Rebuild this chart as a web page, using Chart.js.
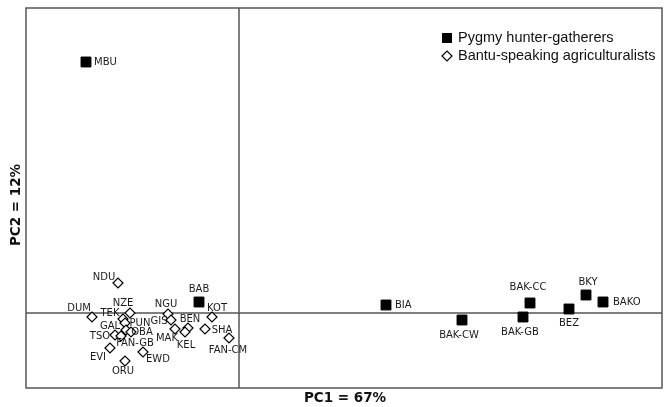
<!DOCTYPE html>
<html>
<head>
<meta charset="utf-8">
<script src="https://cdn.jsdelivr.net/npm/chart.js@4.4.1/dist/chart.umd.min.js"></script>
<style>
  html, body { margin: 0; padding: 0; background: #fff; }
  #chart { display: block; }
</style>
</head>
<body>
<canvas id="chart" width="665" height="407"></canvas>
<script>
// PCA scores
const pygmyNames = ["MBU", "BAB", "BIA", "BAK-CW", "BAK-CC", "BAK-GB", "BEZ", "BKY", "BAKO"];
const pygmyPC1 = [-1.53, -0.40, 1.47, 2.23, 2.91, 2.84, 3.30, 3.47, 3.64];
const pygmyPC2 = [2.51, 0.11, 0.08, -0.07, 0.10, -0.04, 0.04, 0.18, 0.11];

const bantuNames = ["NDU", "DUM", "NZE", "TEK", "GAL", "PUN", "OBA", "TSO", "FAN-GB", "EVI",
                    "ORU", "EWD", "NGU", "GIS", "MAK", "BEN", "KEL", "KOT", "SHA", "FAN-CM"];
const bantuPC1 = [-1.21, -1.47, -1.09, -1.16, -1.14, -1.13, -1.08, -1.24, -1.18, -1.29,
                  -1.14, -0.96, -0.71, -0.68, -0.64, -0.51, -0.54, -0.27, -0.34, -0.10];
const bantuPC2 = [0.30, -0.04, 0.00, -0.06, -0.10, -0.17, -0.19, -0.22, -0.23, -0.35,
                  -0.48, -0.39, -0.01, -0.07, -0.16, -0.15, -0.19, -0.04, -0.16, -0.25];

const seriesNames = ["Pygmy hunter-gatherers", "Bantu-speaking agriculturalists"];
const xTitle = "PC1 = 67%";
const yTitle = "PC2 = 12%";

// where each population label sits next to its marker: [dx, dy, align]
const labelPlace = {
  "MBU": [8, 0, "left"], "BAB": [0, -13, "center"], "BIA": [9, 0, "left"],
  "BAK-CW": [-3, 15, "center"], "BAK-CC": [-2, -16, "center"], "BAK-GB": [-3, 15, "center"],
  "BEZ": [0, 14, "center"], "BKY": [2, -13, "center"], "BAKO": [10, 0, "left"],
  "NDU": [-14, -6, "center"], "DUM": [-13, -9, "center"], "NZE": [-7, -10, "center"],
  "TEK": [-13, -6, "center"], "GAL": [-15, 3, "center"], "PUN": [14, -7, "center"],
  "OBA": [11, 0, "center"], "TSO": [-15, 1, "center"], "FAN-GB": [14, 7, "center"],
  "EVI": [-12, 9, "center"], "ORU": [-2, 10, "center"], "EWD": [15, 7, "center"],
  "NGU": [-2, -10, "center"], "GIS": [-12, 1, "center"], "MAK": [-8, 9, "center"],
  "BEN": [2, -9, "center"], "KEL": [1, 13, "center"], "KOT": [5, -9, "center"],
  "SHA": [17, 1, "center"], "FAN-CM": [-1, 12, "center"]
};

const toPoints = (xs, ys) => xs.map((x, i) => ({ x: x, y: ys[i] }));

const framePlugin = {
  id: "frame",
  beforeDatasetsDraw(chart) {
    const { ctx, chartArea: a, scales } = chart;
    const x0 = scales.x.getPixelForValue(0);
    const y0 = scales.y.getPixelForValue(0);
    ctx.save();
    ctx.strokeStyle = "#555";
    ctx.lineWidth = 1.5;
    ctx.strokeRect(a.left, a.top, a.right - a.left, a.bottom - a.top);
    ctx.beginPath();
    ctx.moveTo(x0, a.top); ctx.lineTo(x0, a.bottom);
    ctx.moveTo(a.left, y0); ctx.lineTo(a.right, y0);
    ctx.stroke();
    ctx.restore();
  },
  afterDatasetsDraw(chart) {
    const { ctx, chartArea: a } = chart;
    ctx.save();
    // population labels
    ctx.font = "10px 'DejaVu Sans'";
    ctx.fillStyle = "#1a1a1a";
    ctx.textBaseline = "middle";
    [pygmyNames, bantuNames].forEach((names, di) => {
      const meta = chart.getDatasetMeta(di);
      names.forEach((n, i) => {
        const p = meta.data[i];
        const pl = labelPlace[n];
        ctx.textAlign = pl[2];
        ctx.fillText(n, p.x + pl[0], p.y + pl[1]);
      });
    });

    // legend
    const lx = 447, ly = 38, gap = 18;
    ctx.fillStyle = "#000";
    ctx.fillRect(lx - 5, ly - 5, 10, 10);
    ctx.beginPath();
    ctx.moveTo(lx - 5, ly + gap); ctx.lineTo(lx, ly + gap - 5);
    ctx.lineTo(lx + 5, ly + gap); ctx.lineTo(lx, ly + gap + 5);
    ctx.closePath();
    ctx.lineWidth = 1.2;
    ctx.strokeStyle = "#000";
    ctx.stroke();
    ctx.font = "14.5px 'Liberation Sans'";
    ctx.fillStyle = "#111";
    ctx.textAlign = "left";
    ctx.fillText(seriesNames[0], lx + 11, ly);
    ctx.fillText(seriesNames[1], lx + 11, ly + gap);

    // axis titles
    ctx.font = "bold 13.5px 'DejaVu Sans'";
    ctx.textAlign = "center";
    ctx.fillText(xTitle, 345, 398);
    ctx.translate(16, 205);
    ctx.rotate(-Math.PI / 2);
    ctx.fillText(yTitle, 0, 0);
    ctx.restore();
  }
};

new Chart(document.getElementById("chart"), {
  type: "scatter",
  data: {
    datasets: [
      {
        label: seriesNames[0],
        data: toPoints(pygmyPC1, pygmyPC2),
        pointStyle: "rect",
        radius: 7,
        backgroundColor: "#000",
        borderColor: "#000",
        borderWidth: 1,
      },
      {
        label: seriesNames[1],
        data: toPoints(bantuPC1, bantuPC2),
        pointStyle: "rectRot",
        radius: 5,
        backgroundColor: "#fff",
        borderColor: "#000",
        borderWidth: 1.2,
      },
    ],
  },
  options: {
    responsive: false,
    animation: false,
    events: [],
    layout: { autoPadding: false, padding: { left: 26, top: 8, right: 3, bottom: 19 } },
    scales: {
      x: { display: false, min: -2.13, max: 4.23 },
      y: { display: false, min: -0.75, max: 3.05 },
    },
    plugins: {
      legend: { display: false },
      tooltip: { enabled: false },
    },
  },
  plugins: [framePlugin],
});
</script>
</body>
</html>
